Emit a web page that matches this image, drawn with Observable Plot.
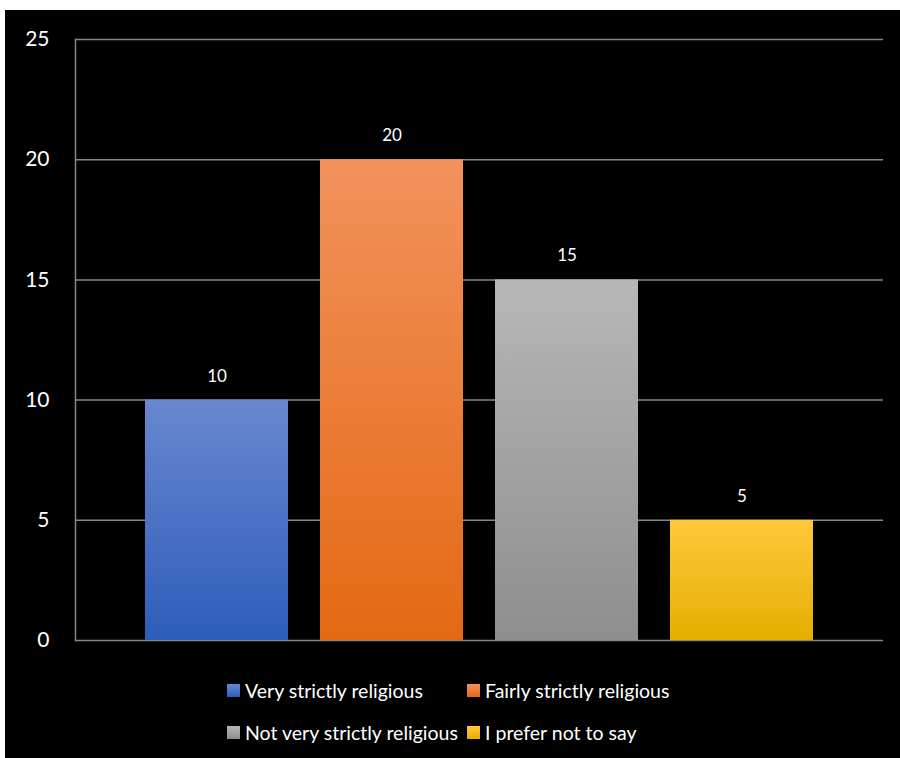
<!DOCTYPE html>
<html>
<head>
<meta charset="utf-8">
<script src="https://cdn.jsdelivr.net/npm/d3@7"></script>
<script src="https://cdn.jsdelivr.net/npm/@observablehq/plot@0.6"></script>
<style>
  html, body { margin: 0; padding: 0; background: #ffffff; }
  #panel {
    position: absolute; left: 5px; top: 10px; width: 895px; height: 748px;
    background: #000000; font-family: Lato, "Open Sans", sans-serif;
  }
  #chart svg { display: block; }
  #legend {
    position: absolute; left: 222px; top: 659px;
    display: grid; grid-template-columns: 240px 240px; grid-auto-rows: 42px;
    color: #ffffff; font-size: 19.5px;
  }
  .item { display: flex; align-items: center; white-space: nowrap; }
  .swatch { width: 13px; height: 13px; margin-right: 5px; flex: none; }
</style>
</head>
<body>
<div id="panel">
  <div id="chart"></div>
  <div id="legend"></div>
</div>
<script>
// Survey answers: how strictly religious respondents consider themselves
const categories = [
  "Very strictly religious",
  "Fairly strictly religious",
  "Not very strictly religious",
  "I prefer not to say"
];
const counts = [10, 20, 15, 5];
const yTicks = [0, 5, 10, 15, 20, 25];
// light (top) and dark (bottom) stops of each bar's vertical gradient
const topColors = ["#6888d0", "#f3925d", "#b7b7b7", "#ffc83c"];
const bottomColors = ["#2d5db9", "#e36914", "#8e8e8e", "#e5ae00"];

const rows = categories.map((c, i) => ({category: c, count: counts[i], grad: `url(#grad${i})`}));

const plot = Plot.plot({
  width: 895,
  height: 650,
  marginLeft: 70,
  marginRight: 17,
  marginTop: 29,
  marginBottom: 20,
  style: {background: "#000000", color: "#ffffff", fontFamily: "Lato, 'Open Sans', sans-serif"},
  x: {domain: categories, range: [124, 824], paddingInner: 0.183, paddingOuter: 0.0915, axis: null},
  y: {domain: [0, 25], ticks: yTicks, tickSize: 0, tickPadding: 26, label: null, tickFormat: d => d},
  marks: [
    Plot.ruleY(yTicks, {stroke: "#878787", strokeWidth: 1.5}),
    Plot.frame({anchor: "left", stroke: "#878787", strokeWidth: 1.5}),
    Plot.barY(rows, {x: "category", y: "count", fill: "grad"}),
    Plot.text(rows, {x: "category", y: "count", text: d => String(d.count), dy: -24,
      fill: "#ffffff", fontSize: 17, lineAnchor: "middle"})
  ]
});

// vertical gradients for the bars (light at the top, darker at the base)
const svg = d3.select(plot);
const defs = svg.insert("defs", ":first-child");
categories.forEach((c, i) => {
  const g = defs.append("linearGradient").attr("id", `grad${i}`)
    .attr("x1", 0).attr("y1", 0).attr("x2", 0).attr("y2", 1);
  g.append("stop").attr("offset", "0%").attr("stop-color", topColors[i]);
  g.append("stop").attr("offset", "100%").attr("stop-color", bottomColors[i]);
});
svg.select("g[aria-label='y-axis tick label']").attr("font-size", 21).attr("fill", "#ffffff");

document.getElementById("chart").appendChild(plot);

// legend in two rows of two
const legend = d3.select("#legend");
categories.forEach((c, i) => {
  const item = legend.append("div").attr("class", "item");
  item.append("div").attr("class", "swatch")
    .style("background", `linear-gradient(${topColors[i]}, ${bottomColors[i]})`);
  item.append("span").text(c);
});
</script>
</body>
</html>
